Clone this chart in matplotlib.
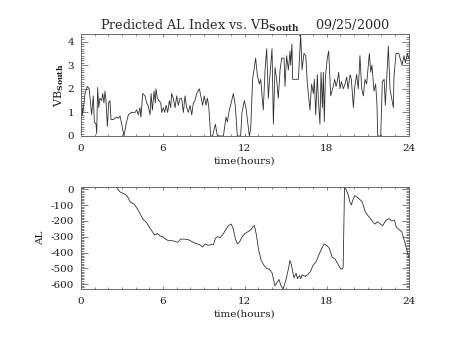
import matplotlib
matplotlib.use('Agg')
import matplotlib.pyplot as plt
from matplotlib.ticker import MultipleLocator, FuncFormatter
import numpy as np

# solar wind VBs (mV/m) vs. time of day
vbs_hours = [0.0, 0.05, 0.12, 0.3, 0.46, 0.6, 0.78, 0.9, 0.98, 1.1, 1.15, 1.22, 1.3, 1.39,
             1.51, 1.59, 1.68, 1.76, 1.83, 1.93, 2.03, 2.12, 2.2, 2.37, 2.61, 2.73, 2.86,
             2.98, 3.15, 3.3, 3.47, 3.71, 3.96, 4.08, 4.2, 4.32, 4.39, 4.52, 4.69, 4.81,
             4.91, 5.06, 5.13, 5.23, 5.35, 5.44, 5.49, 5.59, 5.71, 5.84, 5.91, 6.03, 6.13,
             6.23, 6.35, 6.47, 6.57, 6.64, 6.76, 6.89, 7.01, 7.13, 7.25, 7.37, 7.5, 7.62,
             7.74, 7.86, 7.99, 8.11, 8.23, 8.35, 8.47, 8.67, 8.81, 8.91, 9.03, 9.16, 9.25,
             9.35, 9.5, 9.64, 9.84, 9.99, 10.43, 10.62, 10.72, 10.86, 10.96, 11.16, 11.3,
             11.45, 11.69, 11.79, 11.96, 12.08, 12.33, 12.43, 12.57, 12.79, 12.91, 13.06,
             13.16, 13.35, 13.48, 13.6, 13.72, 13.79, 13.99, 14.09, 14.21, 14.33, 14.45,
             14.58, 14.7, 14.87, 14.94, 15.06, 15.19, 15.31, 15.36, 15.45, 15.5, 15.92,
             16.09, 16.19, 16.33, 16.46, 16.58, 16.77, 16.89, 17.02, 17.09, 17.19, 17.31,
             17.38, 17.5, 17.58, 17.68, 17.75, 17.82, 17.9, 18.04, 18.14, 18.29, 18.38,
             18.48, 18.58, 18.68, 18.77, 18.87, 18.97, 19.07, 19.21, 19.34, 19.46, 19.56,
             19.71, 19.8, 19.95, 20.05, 20.19, 20.31, 20.43, 20.56, 20.68, 20.8, 20.92,
             21.12, 21.22, 21.31, 21.46, 21.58, 21.68, 21.73, 21.95, 22.07, 22.2, 22.29,
             22.39, 22.51, 22.63, 22.75, 22.88, 22.92, 23.07, 23.27, 23.41, 23.51, 23.66,
             23.76, 23.9, 24.0]
vbs = [1.0, 1.4, 0.9, 1.8, 2.1, 2.0, 0.9, 1.7, 0.6, 0.5, 0.1, 2.05, 1.2, 1.6,
       1.5, 1.8, 1.4, 1.9, 1.5, 0.4, 1.4, 1.5, 0.7, 0.7, 0.8, 0.75, 0.85,
       0.5, 0.0, 0.5, 0.9, 1.0, 1.0, 1.1, 0.9, 1.2, 0.8, 1.8, 1.7, 1.4,
       1.3, 0.9, 1.8, 1.1, 1.9, 1.4, 2.0, 1.6, 1.5, 1.4, 1.0, 1.2, 1.0,
       1.3, 1.0, 1.5, 1.2, 1.8, 1.6, 1.2, 1.7, 1.3, 1.6, 1.6, 1.0, 1.7,
       1.2, 1.0, 1.3, 0.9, 1.4, 1.5, 1.8, 2.0, 1.6, 1.3, 1.7, 1.3, 1.6,
       1.3, 0.0, 0.0, 0.5, 0.0, 0.0, 0.8, 0.6, 1.1, 1.3, 1.8, 1.3,
       0.0, 0.0, 1.0, 1.5, 1.2, 0.0, 0.3, 2.4, 3.3, 2.6, 2.2,
       2.4, 1.1, 2.8, 3.7, 1.6, 2.2, 3.7, 0.5, 2.9, 2.4, 1.6,
       2.8, 3.3, 3.3, 2.1, 3.4, 2.8, 3.6, 3.0, 3.9, 2.4, 2.4,
       4.3, 2.8, 3.5, 3.4, 2.2, 1.1, 2.2, 1.8, 2.4, 0.9, 2.6,
       1.6, 0.5, 2.7, 1.2, 2.7, 0.6, 2.5, 3.3, 3.6, 1.7, 1.9,
       2.1, 2.4, 2.1, 2.3, 2.7, 2.0, 2.3, 2.0, 2.2, 2.5, 2.0,
       2.6, 2.4, 1.2, 2.1, 2.6, 2.0, 3.4, 2.0, 1.7, 2.4, 2.2,
       3.5, 2.7, 3.0, 1.9, 2.2, 1.3, 0.0, 0.0, 2.3, 2.4, 1.3,
       2.4, 3.8, 2.0, 1.6, 1.2, 2.5, 3.5, 3.5, 3.2, 3.0, 3.4,
       3.1, 3.5, 3.3]

# predicted AL index (nT)
al_hours = [0.0, 2.6, 2.7, 2.9, 3.2, 3.4, 3.6, 3.9, 4.1, 4.3, 4.45, 4.6, 4.8, 5.0, 5.2,
            5.4, 5.6, 5.8, 6.0, 6.2, 6.4, 6.7, 6.9, 7.1, 7.3, 7.6, 7.9, 8.2, 8.5, 8.7,
            8.9, 9.1, 9.3, 9.5, 9.7, 9.85, 10.0, 10.2, 10.4, 10.6, 10.8, 11.0, 11.15,
            11.3, 11.45, 11.6, 11.8, 12.0, 12.3, 12.5, 12.6, 12.7, 12.85, 13.0, 13.2,
            13.4, 13.6, 13.8, 14.0, 14.2, 14.35, 14.5, 14.65, 14.8, 15.0, 15.2, 15.3,
            15.4, 15.6, 15.75, 15.85, 16.0, 16.1, 16.2, 16.4, 16.6, 16.8, 17.0, 17.2,
            17.4, 17.6, 17.8, 18.0, 18.2, 18.4, 18.6, 18.8, 19.0, 19.15, 19.2, 19.3,
            19.4, 19.55, 19.7, 19.8, 19.9, 20.05, 20.3, 20.6, 20.8, 21.0, 21.2, 21.4,
            21.55, 21.7, 21.85, 22.1, 22.3, 22.55, 22.75, 22.95, 23.1, 23.3, 23.5,
            23.7, 23.85, 24.0]
al = [12, 12, 0, -20, -30, -45, -80, -95, -120, -150, -175, -195, -210, -240, -265,
      -290, -280, -295, -300, -315, -325, -325, -330, -335, -315, -315, -320, -335, -345, -350,
      -365, -345, -355, -350, -350, -310, -300, -305, -285, -255, -230, -220, -250,
      -310, -345, -335, -300, -280, -265, -250, -235, -230, -290, -380, -450,
      -480, -500, -505, -530, -610, -590, -570, -610, -630, -575, -500, -450,
      -475, -560, -530, -565, -545, -565, -540, -550, -540, -520, -480, -460,
      -420, -380, -345, -355, -375, -430, -440, -470, -500, -505, -490, 10,
      0, -30, -80, -100, -70, -40, -55, -80, -140, -165, -185, -210,
      -220, -205, -215, -230, -200, -185, -200, -195, -240, -255, -270,
      -330, -380, -430]

plt.rcParams['font.family'] = 'DejaVu Serif'
plt.rcParams['mathtext.fontset'] = 'dejavuserif'
plt.rcParams['axes.unicode_minus'] = False

fig = plt.figure(figsize=(4.54, 3.41), dpi=100)
ax1 = fig.add_axes([0.1784, 0.6012, 0.7218, 0.2977])
ax2 = fig.add_axes([0.1784, 0.1525, 0.7218, 0.2982])

line_c = '#303030'
box_c = '#6a6a6a'
text_c = '#1a1a1a'

def idl_axes(ax, ymin, ymax, ymaj, ymin_step):
    ax.set_xlim(0, 24)
    ax.set_ylim(ymin, ymax)
    ax.xaxis.set_major_locator(MultipleLocator(6))
    ax.xaxis.set_minor_locator(MultipleLocator(1))
    ax.yaxis.set_major_locator(MultipleLocator(ymaj))
    ax.yaxis.set_minor_locator(MultipleLocator(ymin_step))
    ax.yaxis.set_major_formatter(FuncFormatter(lambda v, p: '%d' % round(v)))
    ax.tick_params(axis='both', which='both', direction='in', top=True, right=True,
                   colors=box_c, labelcolor=text_c, labelsize=7.5, width=0.6)
    ax.tick_params(axis='x', which='major', length=2.5, pad=6)
    ax.tick_params(axis='x', which='minor', length=1.5)
    ax.tick_params(axis='y', which='major', length=5, pad=5)
    ax.tick_params(axis='y', which='minor', length=2.5)
    for s in ax.spines.values():
        s.set_color(box_c)
        s.set_linewidth(0.7)
    ax.set_xlabel('time(hours)', fontsize=7.5, labelpad=2, color=text_c)

ax1.plot(vbs_hours, vbs, color=line_c, lw=0.6)
idl_axes(ax1, min(vbs), max(vbs), 1, 0.1)
ax1.set_ylabel(r'VB$_{\mathbf{South}}$', fontsize=8, labelpad=1, color=text_c)
ax1.set_title(r'Predicted AL Index vs. VB$_{\mathbf{South}}$    09/25/2000',
              fontsize=9.2, color='#2a2a2a', pad=3)

ax2.plot(al_hours, al, color=line_c, lw=0.6)
idl_axes(ax2, min(al), max(al), 100, 10)
ax2.set_ylabel('AL', fontsize=7.5, labelpad=4, color=text_c)

fig.savefig('out.png', dpi=100)
